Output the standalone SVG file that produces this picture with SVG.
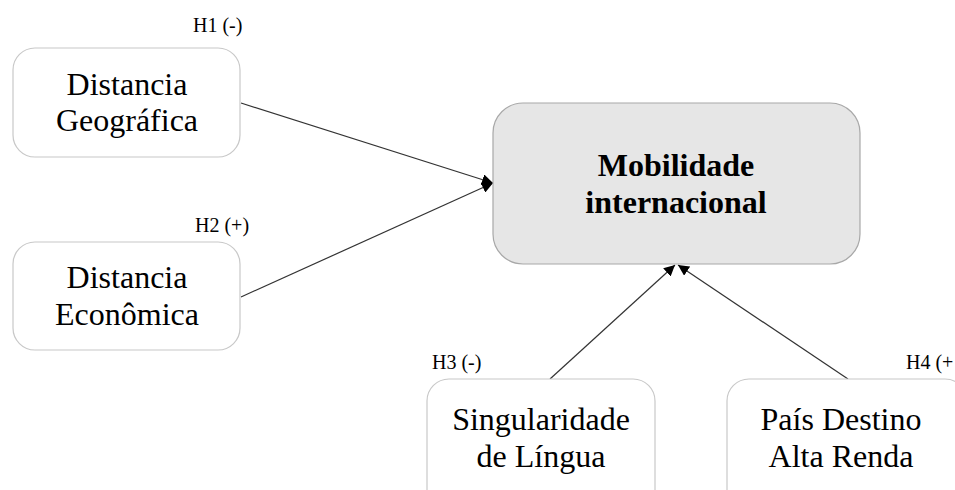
<svg xmlns="http://www.w3.org/2000/svg" width="955" height="490" viewBox="0 0 955 490">
<defs>
<style>
.box{fill:#ffffff;stroke:#c8c8c8;stroke-width:1.2}
.main{fill:#e6e6e6;stroke:#a8a8a8;stroke-width:1.2}
.t{font-family:"Liberation Serif","Times New Roman",serif;font-size:32px;fill:#000;text-anchor:middle}
.tb{font-family:"Liberation Serif","Times New Roman",serif;font-size:32px;font-weight:bold;fill:#000;text-anchor:middle}
.h{font-family:"Liberation Serif","Times New Roman",serif;font-size:20px;fill:#000}
.c{stroke:#333;stroke-width:1.2;fill:none;marker-end:url(#ah)}
</style>
<marker id="ah" viewBox="0 0 10 10" refX="10" refY="5" markerWidth="11" markerHeight="11" markerUnits="userSpaceOnUse" orient="auto">
<path d="M0,0 L10,5 L0,10 z" fill="#000"/>
</marker>
</defs>
<rect width="955" height="490" fill="#fff"/>
<g id="connectors">
<line class="c" x1="241" y1="103" x2="493" y2="183"/>
<line class="c" x1="241" y1="297" x2="493" y2="183"/>
<line class="c" x1="550" y1="379" x2="675" y2="265"/>
<line class="c" x1="848" y1="379" x2="678" y2="265"/>
</g>
<g id="n1">
<rect class="box" x="13" y="48" width="227" height="109" rx="22"/>
<text class="t" x="127" y="95">Distancia</text>
<text class="t" x="127" y="131">Geográfica</text>
<text class="h" x="193" y="32">H1 (-)</text>
</g>
<g id="n2">
<rect class="box" x="13" y="242" width="227" height="108" rx="22"/>
<text class="t" x="127" y="288">Distancia</text>
<text class="t" x="127" y="325">Econômica</text>
<text class="h" x="195" y="232">H2 (+)</text>
</g>
<g id="n3">
<rect class="main" x="493" y="103" width="367" height="161" rx="30"/>
<text class="tb" x="676" y="176">Mobilidade</text>
<text class="tb" x="676" y="213">internacional</text>
</g>
<g id="n4">
<rect class="box" x="427" y="379" width="228" height="140" rx="22"/>
<text class="t" x="541" y="430">Singularidade</text>
<text class="t" x="541" y="467">de Língua</text>
<text class="h" x="432" y="369">H3 (-)</text>
</g>
<g id="n5">
<rect class="box" x="727" y="379" width="240" height="140" rx="22"/>
<text class="t" x="841" y="430">País Destino</text>
<text class="t" x="841" y="467">Alta Renda</text>
<text class="h" x="906" y="369">H4 (+</text>
</g>
</svg>
